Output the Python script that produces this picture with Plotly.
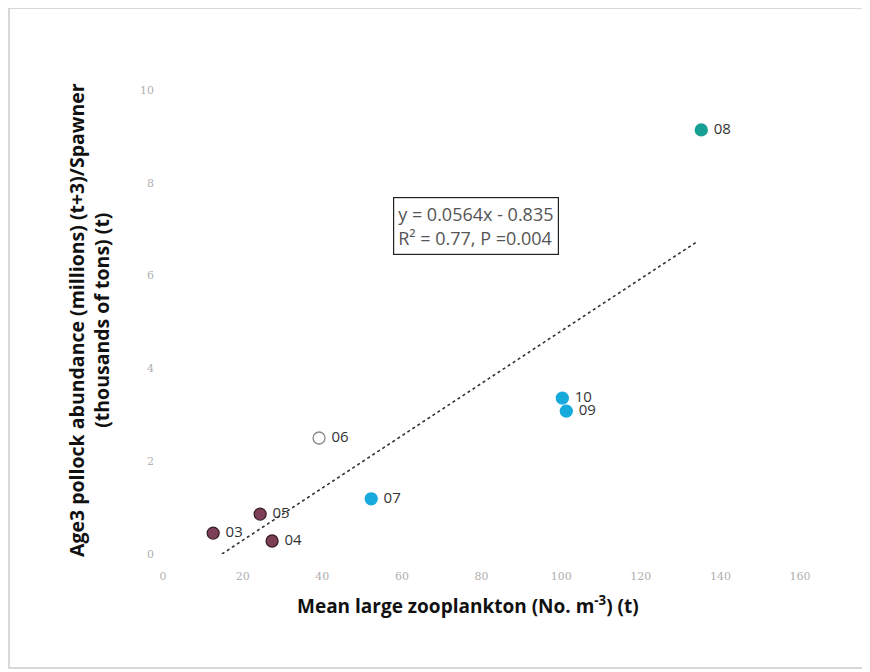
import plotly.graph_objects as go

years = ["03", "04", "05", "06", "07", "09", "10", "08"]
zooplankton = [12.6, 27.4, 24.4, 39.2, 52.3, 101.3, 100.3, 135.2]
abundance = [0.45, 0.28, 0.86, 2.5, 1.19, 3.08, 3.36, 9.14]
fill_colors = ["#7d3f55", "#7d3f55", "#7d3f55", "#ffffff", "#16a9dc", "#16a9dc", "#16a9dc", "#169f93"]
line_colors = ["#3a2028", "#3a2028", "#3a2028", "#8a8a8a", "#16a9dc", "#16a9dc", "#16a9dc", "#169f93"]

slope = 0.0564
intercept = -0.835
trend_x = [14.8, 134.4]
trend_y = [slope * v + intercept for v in trend_x]

x_ticks = [0, 20, 40, 60, 80, 100, 120, 140, 160]
y_ticks = [0, 2, 4, 6, 8, 10]

fig = go.Figure()
fig.add_trace(go.Scatter(
    x=trend_x, y=trend_y, mode="lines",
    line=dict(color="#333333", width=1.6, dash="dot"),
    hoverinfo="skip", showlegend=False,
))
fig.add_trace(go.Scatter(
    x=zooplankton, y=abundance, mode="markers+text",
    text=[" " + y for y in years], textposition="middle right",
    textfont=dict(family="Open Sans", size=15, color="#333333"),
    marker=dict(size=12, color=fill_colors, line=dict(color=line_colors, width=1.3)),
    showlegend=False,
))

OFF = 8  # page offset of the figure in the browser
W, H = 870, 672
L, R, T, B = 163 - OFF, 70 + OFF, 90 - OFF, 118 + OFF
pw, ph = W - L - R, H - T - B

def px(xs):
    return (xs - OFF - L) / pw

def py(ys):
    return (H - B - (ys - OFF)) / ph

fig.update_layout(
    width=W, height=H,
    margin=dict(l=L, r=R, t=T, b=B),
    paper_bgcolor="white", plot_bgcolor="white",
    font=dict(family="Open Sans"),
    xaxis=dict(range=[0, 160], tickvals=x_ticks, showgrid=False, zeroline=False,
               showline=False, ticks="", tickfont=dict(family="DejaVu Serif", size=11, color="#b0b0b0"),
               ticklabelstandoff=14),
    yaxis=dict(range=[0, 10], tickvals=y_ticks, showgrid=False, zeroline=False,
               showline=False, ticks="", tickfont=dict(family="DejaVu Serif", size=11, color="#b0b0b0"),
               ticklabelstandoff=8),
    annotations=[
        dict(text="y = 0.0564x - 0.835<br>R² = 0.77, P =0.004", x=px(476), y=py(226),
             xref="paper", yref="paper", xanchor="center", yanchor="middle",
             showarrow=False, align="left",
             font=dict(family="Open Sans", size=18, color="#555555"),
             bordercolor="#222222", borderwidth=1.2, borderpad=4, bgcolor="white"),
        dict(text="<b>Mean large zooplankton (No. m<sup>-3</sup>) (t)</b>", x=px(468), y=py(605),
             xref="paper", yref="paper", xanchor="center", yanchor="middle", showarrow=False,
             font=dict(family="Open Sans", size=19, color="#111111")),
        dict(text="<b>Age3 pollock abundance (millions) (t+3)/Spawner<br>(thousands of tons) (t)</b>",
             x=px(89), y=py(320), xref="paper", yref="paper", xanchor="center", yanchor="middle",
             showarrow=False, textangle=-90,
             font=dict(family="Open Sans", size=19.5, color="#111111")),
    ],
    shapes=[
        dict(type="rect", xref="paper", yref="paper", x0=px(9), x1=px(866), y0=py(668), y1=py(8),
             line=dict(color="#cccccc", width=1.5)),
    ],
)

fig.write_html("out.html")
